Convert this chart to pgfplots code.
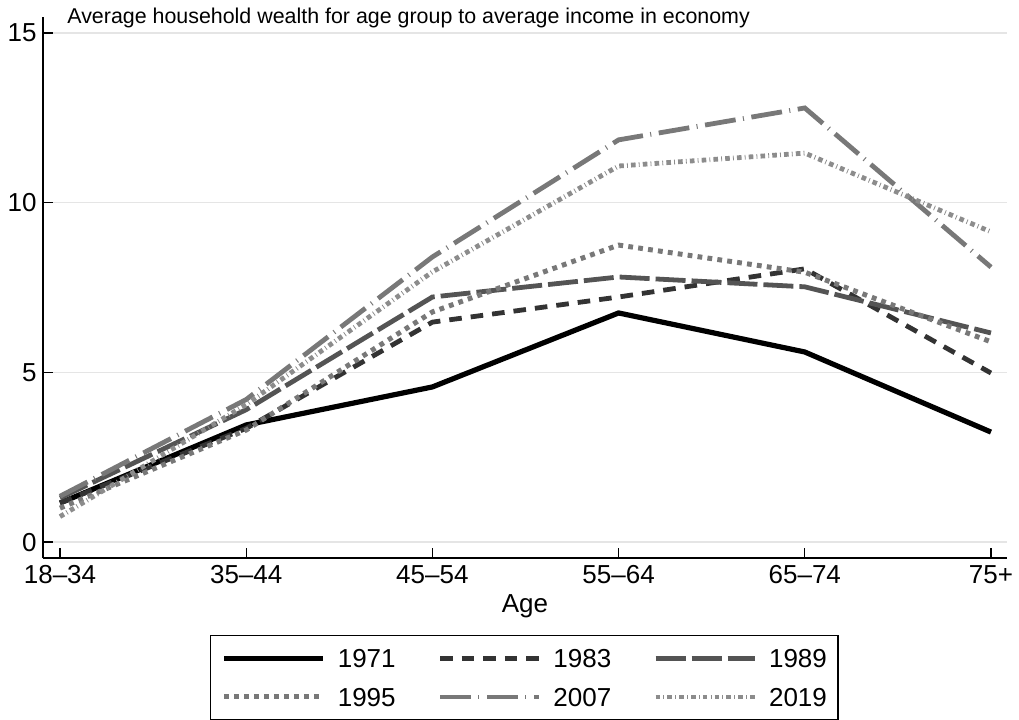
\documentclass[border=0pt]{standalone}
\usepackage{fontspec}
\setmainfont{Liberation Sans}
\usepackage{pgfplots}
\pgfplotsset{compat=1.18}
\definecolor{c83}{gray}{0.2}
\definecolor{c89}{gray}{0.33}
\definecolor{c95}{gray}{0.47}
\definecolor{c07}{gray}{0.47}
\definecolor{c19}{gray}{0.55}
\definecolor{gridc}{gray}{0.9}
\begin{document}
\begin{tikzpicture}
\begin{axis}[
  at={(0,0)}, anchor=south west,
  scale only axis, width=482pt, height=270.5pt,
  xmin=-0.0913, xmax=5.086, ymin=-0.47, ymax=15.47,
  axis x line*=bottom, axis y line*=left,
  axis line style={line width=0.6pt, black},
  xtick={0,1,2,3,4,5},
  xticklabels={18–34,35–44,45–54,55–64,65–74,75+},
  ytick={0,5,10,15},
  tick align=inside, major tick length=5pt,
  tick style={line width=0.6pt, black},
  ymajorgrids, grid style={line width=0.6pt, color=gridc},
  /pgf/number format/assume math mode=true,
  tick label style={font=\fontsize{13}{15}\selectfont},
  xticklabel style={inner sep=0pt, anchor=north, yshift=-3.5pt},
  yticklabel style={inner sep=0pt, anchor=east, xshift=-3pt},
  xlabel={Age},
  xlabel style={font=\fontsize{13}{15}\selectfont, at={(axis description cs:0.5,0)}, anchor=base, yshift=-27pt, inner sep=0pt},
  every axis title shift=0pt,
  title={Average household wealth for age group to average income in economy},
  title style={font=\fontsize{10.7}{12}\selectfont, at={(axis description cs:0,1)}, anchor=base west, xshift=12pt, yshift=-3pt, inner sep=0pt},
  legend columns=3,
  legend cell align=left,
  legend image code/.code={\draw[#1] (0pt,0pt) -- (49.5pt,0pt);},
  legend style={at={(axis description cs:0.17324,-0.14233)}, anchor=north west,
    draw=black, line width=0.6pt, fill=white,
    inner xsep=5.5pt, inner ysep=6.85pt, row sep=10.2pt,
    font=\fontsize{13}{15}\selectfont,
    nodes={inner sep=0pt, text depth=0pt},
    /tikz/every odd column/.append style={column sep=6pt},
    /tikz/every even column/.append style={column sep=21pt}},
]
\addplot[black, line width=2.6pt] coordinates {(0,1.15) (1,3.45) (2,4.57) (3,6.75) (4,5.6) (5,3.24)};
\addlegendentry{1971}
\addplot[c83, line width=2.4pt, dash pattern=on 6.3pt off 4.5pt] coordinates {(0,1.15) (1,3.35) (2,6.48) (3,7.22) (4,8.05) (5,4.98)};
\addlegendentry{1983}
\addplot[c89, line width=2.4pt, dash pattern=on 15pt off 3pt] coordinates {(0,1.3) (1,3.9) (2,7.22) (3,7.81) (4,7.52) (5,6.16)};
\addlegendentry{1989}
\addplot[c95, line width=2.5pt, dash pattern=on 2.4pt off 2.6pt] coordinates {(0,1.0) (1,3.3) (2,6.78) (3,8.75) (4,7.95) (5,5.9)};
\addlegendentry{1995}
\addplot[c07, line width=2.4pt, dash pattern=on 15.5pt off 3.7pt on 0.5pt off 3.8pt] coordinates {(0,1.35) (1,4.2) (2,8.4) (3,11.85) (4,12.79) (5,8.1)};
\addlegendentry{2007}
\addplot[c19, line width=2.4pt, dash pattern=on 2.3pt off 1.6pt on 0.4pt off 1.6pt] coordinates {(0,0.75) (1,4.05) (2,7.96) (3,11.08) (4,11.46) (5,9.14)};
\addlegendentry{2019}
\end{axis}
\pgfresetboundingbox
\useasboundingbox (-21.5pt,-80.5pt) rectangle (488pt,279pt);
\end{tikzpicture}
\end{document}
